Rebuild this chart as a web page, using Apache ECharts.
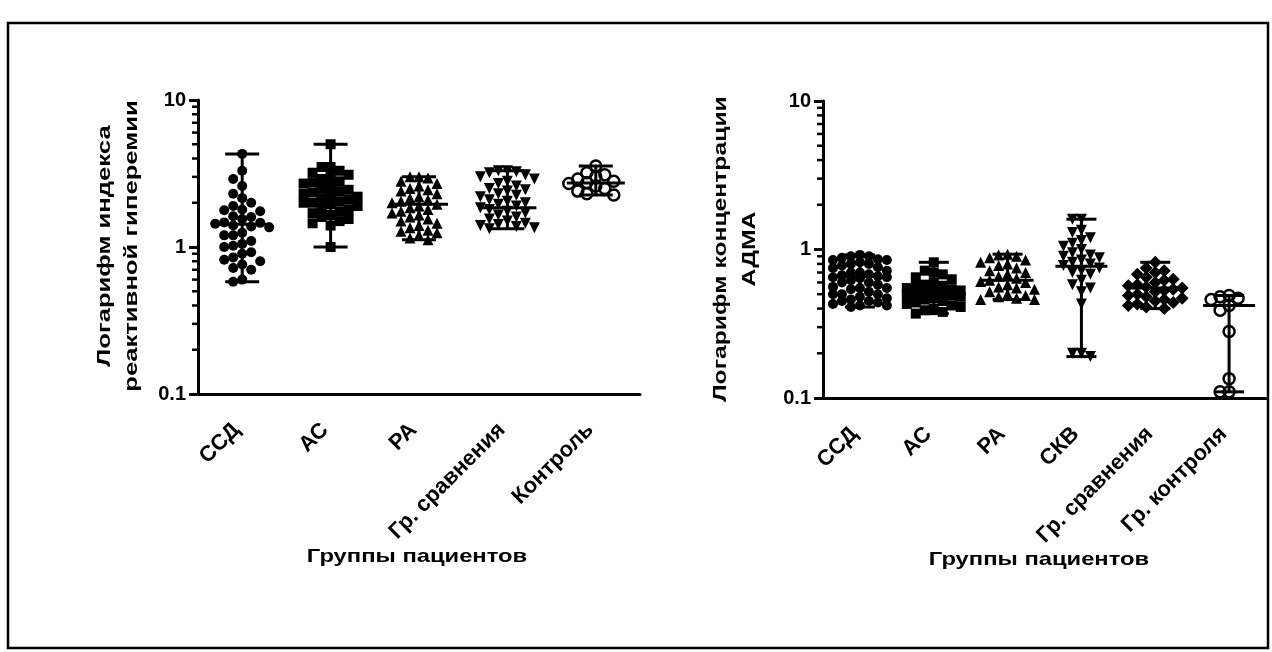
<!DOCTYPE html>
<html><head><meta charset="utf-8">
<script src="https://cdn.jsdelivr.net/npm/echarts@6/dist/echarts.min.js"></script>
<style>html,body{margin:0;padding:0;background:#fff}#c{width:1272px;height:652px}</style>
</head><body><div id="c"></div><script>
// ---------- data ----------
const catsLeft = ['ССД', 'АС', 'РА', 'Гр. сравнения', 'Контроль'];
const catsRight = ['ССД', 'АС', 'РА', 'СКВ', 'Гр. сравнения', 'Гр. контроля'];
const xTitle = 'Группы пациентов';
const yTitleLeft = 'Логарифм индекса\nреактивной гиперемии';
const yTitleRight = 'Логарифм концентрации\nАДМА';
const minorTickValues = [0.2,0.3,0.4,0.5,0.6,0.7,0.8,0.9,2,3,4,5,6,7,8,9];

const leftSSD = [4.3, 3.3, 2.9, 2.6, 2.3, 2.15, 2.0, 1.9, 1.8, 1.78, 1.75, 1.62, 1.6, 1.55, 1.47, 1.46, 1.44, 1.4, 1.38, 1.36, 1.25, 1.2, 1.2, 1.1, 1.05, 1.02, 1.0, 0.92, 0.9, 0.85, 0.82, 0.8, 0.76, 0.72, 0.7, 0.6, 0.58];
const leftAS = [5.0, 3.5, 3.5, 3.3, 3.2, 3.1, 3.0, 2.9, 2.8, 2.75, 2.7, 2.6, 2.5, 2.45, 2.4, 2.35, 2.3, 2.25, 2.2, 2.15, 2.1, 2.05, 2.0, 2.0, 1.95, 1.9, 1.85, 1.8, 1.75, 1.7, 1.65, 1.6, 1.55, 1.5, 1.45, 1.4, 1.0];
const leftRA = [3.0, 3.0, 2.95, 2.8, 2.7, 2.6, 2.5, 2.45, 2.4, 2.3, 2.2, 2.15, 2.1, 2.05, 2.0, 1.95, 1.9, 1.85, 1.8, 1.75, 1.7, 1.65, 1.6, 1.55, 1.5, 1.45, 1.4, 1.35, 1.3, 1.28, 1.25, 1.2, 1.15, 1.12];
const leftCmp = [3.3, 3.3, 3.25, 3.2, 3.1, 3.0, 2.9, 2.8, 2.7, 2.6, 2.5, 2.45, 2.4, 2.3, 2.25, 2.2, 2.1, 2.05, 2.0, 1.95, 1.9, 1.85, 1.8, 1.75, 1.7, 1.65, 1.6, 1.55, 1.5, 1.45, 1.42, 1.4, 1.38, 1.35, 1.33];
const leftCtrl = [3.56, 3.2, 3.1, 3.0, 2.9, 2.8, 2.75, 2.7, 2.6, 2.5, 2.4, 2.3, 2.26];
const leftMedians = [1.43, 2.07, 1.95, 1.85, 2.72];

const rightSSD = [0.92, 0.9, 0.9, 0.88, 0.86, 0.85, 0.85, 0.82, 0.8, 0.8, 0.78, 0.76, 0.75, 0.72, 0.7, 0.7, 0.68, 0.67, 0.66, 0.65, 0.65, 0.64, 0.62, 0.6, 0.6, 0.58, 0.56, 0.55, 0.55, 0.54, 0.52, 0.5, 0.5, 0.5, 0.48, 0.47, 0.46, 0.45, 0.45, 0.44, 0.43, 0.42, 0.42, 0.41];
const rightAS = [0.82, 0.72, 0.7, 0.68, 0.65, 0.63, 0.6, 0.58, 0.57, 0.56, 0.55, 0.54, 0.53, 0.52, 0.52, 0.51, 0.5, 0.5, 0.49, 0.48, 0.47, 0.46, 0.45, 0.44, 0.43, 0.42, 0.41, 0.4, 0.39, 0.38, 0.37];
const rightRA = [0.93, 0.92, 0.9, 0.88, 0.85, 0.82, 0.8, 0.78, 0.75, 0.72, 0.7, 0.68, 0.66, 0.64, 0.62, 0.61, 0.6, 0.58, 0.56, 0.55, 0.54, 0.52, 0.5, 0.49, 0.48, 0.47, 0.46, 0.46];
const rightSKV = [1.6, 1.6, 1.35, 1.3, 1.2, 1.15, 1.1, 1.05, 1.0, 0.95, 0.92, 0.9, 0.88, 0.85, 0.82, 0.8, 0.78, 0.75, 0.72, 0.7, 0.68, 0.62, 0.58, 0.55, 0.52, 0.43, 0.2, 0.2, 0.19];
const rightCmp = [0.82, 0.75, 0.72, 0.7, 0.68, 0.65, 0.63, 0.62, 0.6, 0.58, 0.57, 0.56, 0.55, 0.54, 0.53, 0.52, 0.5, 0.49, 0.48, 0.47, 0.46, 0.45, 0.44, 0.43, 0.42, 0.41, 0.4];
const rightCtrl = [0.49, 0.48, 0.47, 0.46, 0.42, 0.39, 0.28, 0.135, 0.11, 0.11];
const rightMedians = [0.66, 0.52, 0.62, 0.77, 0.55, 0.42];

// ---------- helpers ----------
const FONT = 'Liberation Sans';
function swarm(values, pxPerDecade, bandPx, size, maxSteps) {
  const placed = [];
  const order = values.map((v, i) => ({ v, i })).sort((a, b) => b.v - a.v);
  const out = new Array(values.length);
  order.forEach(p => {
    const y = Math.log10(p.v) * pxPerDecade;
    let best = 0, bestOv = Infinity;
    for (let k = 0; k <= 2 * maxSteps; k++) {
      const step = k === 0 ? 0 : (k % 2 ? -Math.ceil(k / 2) : Math.ceil(k / 2));
      const x = step * size * 0.9;
      let ov = 0;
      placed.forEach(q => { const d = Math.hypot(q.x - x, q.y - y); if (d < size * 0.9) ov += size - d; });
      if (ov === 0) { best = x; bestOv = 0; break; }
      if (ov < bestOv) { bestOv = ov; best = x; }
    }
    placed.push({ x: best, y });
    out[p.i] = best / bandPx;
  });
  return out;
}
function pts(values, idx, pxPerDecade, bandPx, size, maxSteps) {
  const offs = swarm(values, pxPerDecade, bandPx, size, maxSteps);
  return values.map((v, j) => [idx + offs[j], v]);
}
function rangeRender(halfMed, halfCap) {
  return function (params, api) {
    const i = api.value(0), mn = api.value(1), md = api.value(2), mx = api.value(3);
    const a = api.coord([i, mn]), m = api.coord([i, md]), b = api.coord([i, mx]);
    const st = { stroke: '#000', lineWidth: 3, fill: null };
    return { type: 'group', children: [
      { type: 'line', shape: { x1: a[0], y1: a[1], x2: b[0], y2: b[1] }, style: st },
      { type: 'line', shape: { x1: a[0] - halfCap, y1: a[1], x2: a[0] + halfCap, y2: a[1] }, style: st },
      { type: 'line', shape: { x1: b[0] - halfCap, y1: b[1], x2: b[0] + halfCap, y2: b[1] }, style: st },
      { type: 'line', shape: { x1: m[0] - halfMed, y1: m[1], x2: m[0] + halfMed, y2: m[1] }, style: st }
    ]};
  };
}
function minorRender(params, api) {
  const p = api.coord([-0.5, api.value(0)]);
  return { type: 'line', shape: { x1: p[0] - 6, y1: p[1], x2: p[0], y2: p[1] }, style: { stroke: '#000', lineWidth: 2.5 } };
}
const txt = (size) => ({ color: '#000', fontFamily: FONT, fontWeight: 'bold', fontSize: size });

const groupsLeft = [leftSSD, leftAS, leftRA, leftCmp, leftCtrl];
const groupsRight = [rightSSD, rightAS, rightRA, rightSKV, rightCmp, rightCtrl];
const solid = { color: '#000', opacity: 1 };
const hollow = { color: 'rgba(0,0,0,0)', borderColor: '#000', borderWidth: 2.5, opacity: 1 };
const symLeft = [
  { symbol: 'circle', symbolSize: 10, itemStyle: solid },
  { symbol: 'rect', symbolSize: 10, itemStyle: solid },
  { symbol: 'triangle', symbolSize: 11, itemStyle: solid },
  { symbol: 'triangle', symbolSize: 11, symbolRotate: 180, itemStyle: solid },
  { symbol: 'circle', symbolSize: 11, itemStyle: hollow }
];
const symRight = [
  { symbol: 'circle', symbolSize: 10, itemStyle: solid },
  { symbol: 'rect', symbolSize: 10, itemStyle: solid },
  { symbol: 'triangle', symbolSize: 11, itemStyle: solid },
  { symbol: 'triangle', symbolSize: 11, symbolRotate: 180, itemStyle: solid },
  { symbol: 'diamond', symbolSize: 13, itemStyle: solid },
  { symbol: 'circle', symbolSize: 11, itemStyle: hollow }
];

const series = [];
groupsLeft.forEach((g, i) => series.push(Object.assign({
  type: 'scatter', xAxisIndex: 1, yAxisIndex: 0, data: pts(g, i, 147, 88.4, 10, 3), z: 2
}, symLeft[i])));
groupsRight.forEach((g, i) => series.push(Object.assign({
  type: 'scatter', xAxisIndex: 3, yAxisIndex: 1, data: pts(g, i, 148.5, 74, 10, 3), z: 2
}, symRight[i])));
series.push({ type: 'custom', xAxisIndex: 1, yAxisIndex: 0, z: 3, renderItem: rangeRender(29, 17),
  data: groupsLeft.map((g, i) => [i, Math.min(...g), leftMedians[i], Math.max(...g)]) });
series.push({ type: 'custom', xAxisIndex: 3, yAxisIndex: 1, z: 3, renderItem: rangeRender(26, 15),
  data: groupsRight.map((g, i) => [i, Math.min(...g), rightMedians[i], Math.max(...g)]) });
series.push({ type: 'custom', xAxisIndex: 1, yAxisIndex: 0, renderItem: minorRender, data: minorTickValues.map(v => [v]), encode: { y: 0 } });
series.push({ type: 'custom', xAxisIndex: 3, yAxisIndex: 1, renderItem: minorRender, data: minorTickValues.map(v => [v]), encode: { y: 0 } });

function catAxis(gridIndex, cats) {
  return {
    type: 'category', gridIndex, data: cats, boundaryGap: true,
    axisLine: { onZero: false, lineStyle: { color: '#000', width: 3 } },
    axisTick: { alignWithLabel: true, length: 8, lineStyle: { color: '#000', width: 3 } },
    axisLabel: Object.assign({ rotate: 45, interval: 0, margin: 27, padding: [0, 8, 0, 0] }, txt(22))
  };
}
function hiddenX(gridIndex, n) {
  return { type: 'value', gridIndex, min: -0.5, max: n - 0.5, show: false };
}
function logY(gridIndex) {
  return {
    type: 'log', logBase: 10, gridIndex, min: 0.1, max: 10,
    axisLine: { show: true, onZero: false, lineStyle: { color: '#000', width: 3 } },
    axisTick: { show: true, length: 9, lineStyle: { color: '#000', width: 3 } },
    splitLine: { show: false },
    axisLabel: Object.assign({ margin: 12, formatter: v => String(+(+v).toPrecision(3)) }, txt(20))
  };
}
function titleText(text, x, y, rot, sx, lh) {
  return {
    type: 'text', x, y, rotation: rot, scaleX: sx, z: 10,
    style: { text, fill: '#000', font: 'bold 19px "' + FONT + '"', fontFamily: FONT, fontWeight: 'bold', fontSize: 19,
      align: 'center', verticalAlign: 'middle', textAlign: 'center', textVerticalAlign: 'middle', lineHeight: lh }
  };
}

const chart = echarts.init(document.getElementById('c'), null, { renderer: 'canvas' });
chart.setOption({
  backgroundColor: '#fff',
  animation: false,
  grid: [
    { left: 198, top: 100, width: 442, height: 294 },
    { left: 823, top: 101, width: 443, height: 297 }
  ],
  xAxis: [catAxis(0, catsLeft), hiddenX(0, catsLeft.length), catAxis(1, catsRight), hiddenX(1, catsRight.length)],
  yAxis: [logY(0), logY(1)],
  graphic: [
    { type: 'rect', shape: { x: 8, y: 23, width: 1260, height: 625 }, style: { fill: null, stroke: '#000', lineWidth: 2.5 }, z: 10 },
    titleText(xTitle, 417, 557, 0, 1.25, 22),
    titleText(xTitle, 1039, 560, 0, 1.25, 22),
    titleText(yTitleLeft, 118, 246, Math.PI / 2, 1.35, 27),
    titleText(yTitleRight, 735, 249, Math.PI / 2, 1.3, 29)
  ],
  series
});
</script></body></html>
